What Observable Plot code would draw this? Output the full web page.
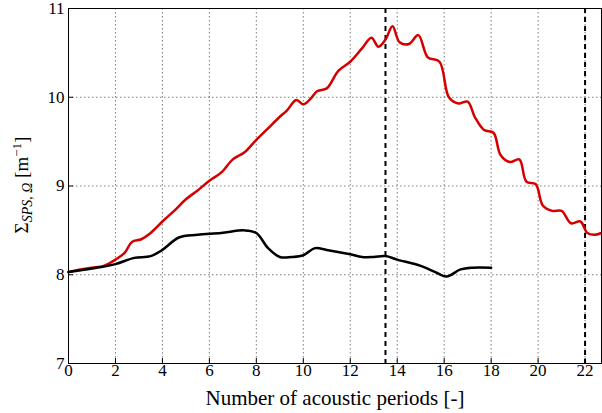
<!DOCTYPE html>
<html><head><meta charset="utf-8">
<script src="https://cdn.jsdelivr.net/npm/d3@7"></script>
<script src="https://cdn.jsdelivr.net/npm/@observablehq/plot@0.6"></script>
<style>body{margin:0;background:#fff}svg{font-family:"Liberation Serif","DejaVu Serif",serif}</style>
</head><body><div id="c"></div>
<script>
const redX = [0,0.5,1,1.5,2,2.4,2.7,3.1,3.5,4,4.5,5,5.5,6,6.5,7,7.5,8,8.5,9,9.3,9.7,10,10.3,10.6,11,11.5,12,12.5,12.9,13.2,13.5,13.8,14.1,14.5,14.9,15.3,15.8,16.2,16.6,17,17.3,17.7,18.1,18.4,18.8,19.2,19.5,19.9,20.2,20.6,21,21.4,21.8,22.1,22.4,22.7];
const redY = [8.03,8.06,8.08,8.1,8.17,8.25,8.37,8.4,8.47,8.6,8.72,8.85,8.95,9.06,9.15,9.3,9.38,9.52,9.65,9.78,9.85,9.97,9.92,9.98,10.07,10.1,10.3,10.4,10.55,10.67,10.57,10.65,10.8,10.62,10.6,10.7,10.45,10.4,10.0,9.93,9.95,9.78,9.63,9.6,9.35,9.27,9.3,9.05,9.02,8.78,8.72,8.72,8.58,8.6,8.47,8.45,8.47];
const blackX = [0,1,2,2.8,3.5,4,4.7,5.5,6.5,7.5,8,8.5,9,9.5,10,10.5,11,12,12.5,13,13.5,14,15,15.7,16.1,16.7,17.2,18];
const blackY = [8.03,8.07,8.12,8.19,8.21,8.28,8.42,8.45,8.47,8.5,8.47,8.3,8.2,8.2,8.22,8.3,8.28,8.23,8.2,8.2,8.21,8.17,8.1,8.02,7.98,8.06,8.08,8.08];
const dashedX = [13.5, 22];
const xTicks = d3.range(0, 23, 2);
const yTicks = [7, 8, 9, 10, 11];

const red = redX.map((x, i) => ({x, y: redY[i]}));
const black = blackX.map((x, i) => ({x, y: blackY[i]}));

const plot = Plot.plot({
  width: 602, height: 413,
  marginLeft: 68, marginRight: 1, marginTop: 8, marginBottom: 50,
  style: {color: "black"},
  x: {domain: [0, 22.7]},
  y: {domain: [7, 11]},
  marks: [
    Plot.gridX(xTicks, {strokeDasharray: "1.5,2.5", strokeOpacity: 0.7, stroke: "#444"}),
    Plot.gridY(yTicks, {strokeDasharray: "1.5,2.5", strokeOpacity: 0.7, stroke: "#444"}),
    Plot.axisX({ticks: xTicks, tickFormat: "d", tickSize: -5, tickPadding: 5, fontSize: 17, label: null}),
    Plot.axisY({ticks: yTicks, tickFormat: "d", tickSize: -5, tickPadding: 9, fontSize: 17, label: null}),
    Plot.ruleX(dashedX, {strokeWidth: 2, strokeDasharray: "5,4"}),
    Plot.line(red, {x: "x", y: "y", stroke: "#d40000", strokeWidth: 2.5, curve: "catmull-rom"}),
    Plot.line(black, {x: "x", y: "y", stroke: "black", strokeWidth: 2.5, curve: "catmull-rom"}),
    Plot.frame({stroke: "black"})
  ]
});
const svg = d3.select(plot);
svg.append("text").attr("x", 335).attr("y", 405).attr("text-anchor", "middle")
  .style("font-size", "21px").attr("fill", "black").text("Number of acoustic periods [-]");
const t = svg.append("text")
  .attr("transform", "translate(28,185) rotate(-90)")
  .attr("text-anchor", "middle").style("font-size", "19px").attr("fill", "black");
t.append("tspan").text("Σ");
t.append("tspan").attr("font-style","italic").style("font-size","14px").attr("dy","4").text("SPS, Ω");
t.append("tspan").attr("dy","-4").style("font-size","19px").text(" [m");
t.append("tspan").style("font-size","13px").attr("dy","-7").text("−1");
t.append("tspan").attr("dy","7").style("font-size","19px").text("]");
document.getElementById("c").appendChild(plot);
</script></body></html>
